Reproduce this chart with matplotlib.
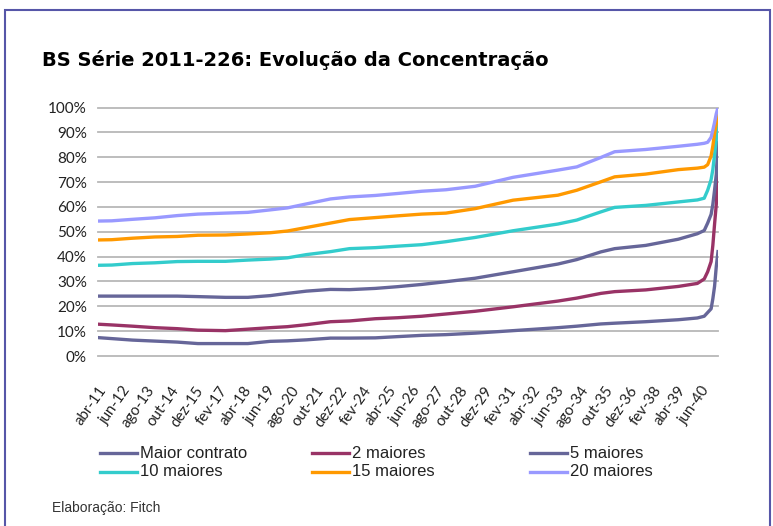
import numpy as np
import matplotlib.pyplot as plt
from matplotlib.patches import Rectangle
from matplotlib.lines import Line2D

# meses contados a partir de abr-11 (0 = abr-11, 360 = abr-41)
meses = [0, 8, 20, 33, 46, 58, 74, 87, 100, 110, 121, 135, 146, 161, 174, 188,
         202, 219, 241, 267, 278, 292, 300, 318, 337, 348, 352, 354, 356, 357,
         358, 359, 360]

maior_contrato = [7.4, 7.0, 6.4, 6.0, 5.6, 5.0, 5.0, 5.0, 5.9, 6.1, 6.5, 7.2, 7.2,
                  7.3, 7.8, 8.3, 8.6, 9.2, 10.2, 11.4, 12.0, 12.9, 13.2, 13.8, 14.6,
                  15.3, 16.0, 17.5, 19.0, 23.0, 28.0, 36.0, 42.0]
maiores_2 = [12.8, 12.5, 12.0, 11.4, 11.0, 10.4, 10.2, 10.8, 11.4, 11.8, 12.6, 13.8,
             14.1, 15.0, 15.4, 16.0, 16.9, 18.0, 19.8, 22.1, 23.3, 25.2, 25.9, 26.6,
             28.0, 29.2, 31.0, 33.9, 38.0, 44.5, 53.0, 61.0, 79.0]
maiores_5 = [24.1, 24.1, 24.1, 24.1, 24.1, 23.9, 23.6, 23.6, 24.3, 25.2, 26.1, 26.8,
             26.7, 27.2, 27.9, 28.8, 29.9, 31.3, 33.9, 37.0, 38.8, 41.9, 43.2, 44.5,
             47.0, 49.2, 50.5, 53.5, 57.0, 61.0, 66.7, 73.0, 86.0]
maiores_10 = [36.5, 36.6, 37.2, 37.5, 38.0, 38.1, 38.1, 38.6, 39.0, 39.5, 40.8, 42.0,
              43.2, 43.6, 44.2, 44.8, 46.0, 47.7, 50.4, 53.1, 54.7, 58.0, 59.8, 60.6,
              62.0, 62.8, 63.5, 66.7, 71.0, 75.0, 81.0, 87.0, 95.0]
maiores_15 = [46.7, 46.8, 47.4, 47.9, 48.1, 48.6, 48.7, 49.1, 49.6, 50.3, 51.7, 53.5,
              54.9, 55.7, 56.4, 57.1, 57.5, 59.3, 62.7, 64.7, 66.7, 70.1, 72.1, 73.2,
              75.0, 75.6, 76.0, 77.0, 80.5, 84.5, 89.5, 93.5, 98.0]
maiores_20 = [54.3, 54.4, 55.0, 55.6, 56.5, 57.1, 57.5, 57.8, 58.8, 59.6, 61.2, 63.2,
              64.0, 64.6, 65.4, 66.3, 66.9, 68.3, 71.9, 74.8, 76.1, 79.9, 82.2, 83.1,
              84.4, 85.2, 85.6, 86.0, 88.0, 90.9, 94.0, 97.5, 100.0]

series = [
    ("Maior contrato", maior_contrato, "#666699"),
    ("2 maiores", maiores_2, "#993366"),
    ("5 maiores", maiores_5, "#666699"),
    ("10 maiores", maiores_10, "#33CCCC"),
    ("15 maiores", maiores_15, "#FF9900"),
    ("20 maiores", maiores_20, "#9999FF"),
]

meses_nome = ["jan", "fev", "mar", "abr", "mai", "jun", "jul", "ago", "set",
              "out", "nov", "dez"]
tick_pos = list(range(0, 351, 14))
tick_lbl = []
for m in tick_pos:
    idx = 3 + m
    tick_lbl.append("%s-%02d" % (meses_nome[idx % 12], (11 + idx // 12) % 100))

W, H = 773, 526
fig = plt.figure(figsize=(W / 100, H / 100), dpi=100)

def fx(px):
    return px / W

def fy(py):
    return 1 - py / H

# moldura
fig.patches.append(Rectangle((fx(5), -0.05), fx(770 - 5), 1.05 - 10 / H,
                             transform=fig.transFigure, fill=False,
                             edgecolor="#5656a8", linewidth=1.5))

fig.text(fx(42), fy(60), "BS Série 2011-226: Evolução da Concentração",
         fontsize=14, fontweight="bold", family="DejaVu Sans",
         va="center", ha="left")

ax = fig.add_axes([fx(98), fy(356), fx(620), (356 - 107.5) / H])
handles = []
for nome, vals, cor in series:
    ln, = ax.plot(meses, np.array(vals) / 100, color=cor, linewidth=2.4,
                  label=nome, solid_joinstyle="round")
    handles.append(ln)

ax.set_xlim(0, 360)
ax.set_ylim(0, 1)
ax.set_yticks(np.arange(0, 1.01, 0.1))
ax.set_yticklabels(["%d%%" % v for v in range(0, 101, 10)])
ax.set_xticks(tick_pos)
ax.set_xticklabels(tick_lbl, rotation=55, ha="right", va="top",
                   rotation_mode="anchor")
for s in ax.spines.values():
    s.set_visible(False)
ax.tick_params(axis="both", length=0, colors="#222222")
ax.tick_params(axis="y", pad=8, labelsize=11)
ax.tick_params(axis="x", pad=20, labelsize=10.8)
for lbl in ax.get_xticklabels() + ax.get_yticklabels():
    lbl.set_family("Lato")
ax.yaxis.grid(True, color="#b8b8b8", linewidth=1.3)
ax.set_axisbelow(True)
for gl in ax.get_ygridlines():
    gl.set_clip_on(False)

# legenda em duas linhas, três colunas
col_x = [100, 312, 530]
row_y = [453, 472]
for i, (nome, vals, cor) in enumerate(series):
    lx = col_x[i % 3]
    ly = row_y[i // 3]
    fig.add_artist(Line2D([fx(lx), fx(lx + 37)], [fy(ly), fy(ly)],
                          color=cor, linewidth=2.4,
                          transform=fig.transFigure))
    fig.text(fx(lx + 40), fy(ly), nome, fontsize=12, family="Liberation Sans",
             color="#222222", va="center", ha="left")

fig.text(fx(52), fy(508), "Elaboração: Fitch", fontsize=10,
         family="Liberation Sans", color="#333333", va="center", ha="left")

fig.savefig("out.png", dpi=100)
